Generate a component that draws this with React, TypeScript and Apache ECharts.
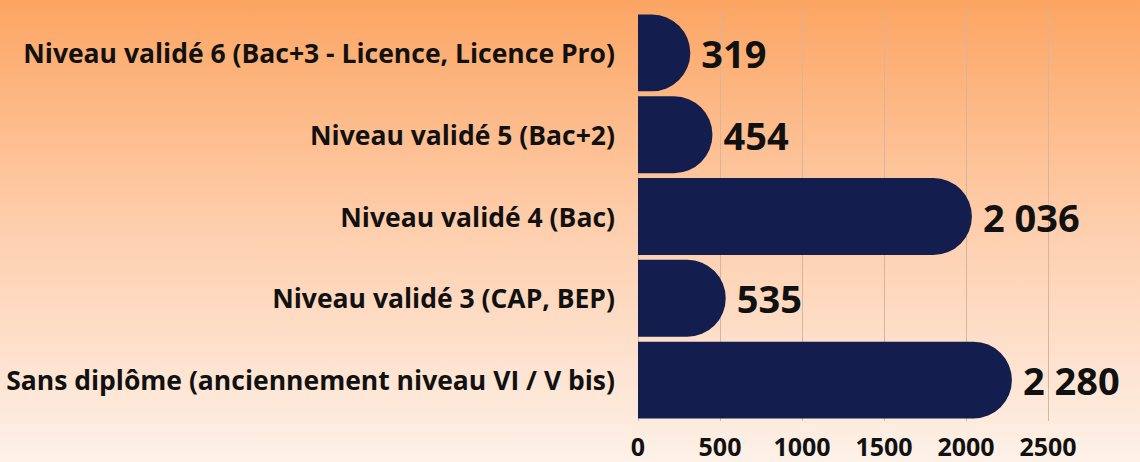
import React, { useEffect, useRef } from "react";
import * as echarts from "echarts";

const categories = [
  "Sans diplôme (anciennement niveau VI / V bis)",
  "Niveau validé 3 (CAP, BEP)",
  "Niveau validé 4 (Bac)",
  "Niveau validé 5 (Bac+2)",
  "Niveau validé 6 (Bac+3 - Licence, Licence Pro)",
];
const values = [2280, 535, 2036, 454, 319];
const xTicks = [0, 500, 1000, 1500, 2000, 2500];

const FONT = "'Open Sans', sans-serif";

function fmt(v: number): string {
  const s = String(v);
  return s.length > 3 ? s.slice(0, s.length - 3) + " " + s.slice(s.length - 3) : s;
}

export default function App() {
  const ref = useRef<HTMLDivElement>(null);
  useEffect(() => {
    if (!ref.current) return;
    const chart = echarts.init(ref.current, null, { renderer: "svg" });
    chart.setOption({
      animation: false,
      backgroundColor: new echarts.graphic.LinearGradient(0, 0, 0, 1, [
        { offset: 0, color: "#fca563" },
        { offset: 0.5, color: "#fecfae" },
        { offset: 1, color: "#fdf1e8" },
      ]),
      grid: { left: 638, right: 92, top: 12, bottom: 41, containLabel: false },
      xAxis: {
        type: "value",
        min: xTicks[0],
        max: xTicks[xTicks.length - 1],
        interval: 500,
        axisLine: { show: false },
        axisTick: { show: false },
        splitLine: { show: true, lineStyle: { color: "#d8b49a", width: 1 } },
        axisLabel: {
          color: "#111111",
          fontFamily: FONT,
          fontWeight: 700,
          fontSize: 25,
          margin: 12,
          formatter: (v: number) => String(v),
        },
      },
      yAxis: {
        type: "category",
        data: categories,
        axisLine: { show: false },
        axisTick: { show: false },
        axisLabel: {
          color: "#111111",
          fontFamily: FONT,
          fontWeight: 700,
          fontSize: 26.5,
          margin: 23,
        },
      },
      series: [
        {
          type: "bar",
          data: values,
          barCategoryGap: "6%",
          itemStyle: { color: "#131e4e", borderRadius: [0, 40, 40, 0] },
          label: {
            show: true,
            position: "right",
            distance: 11,
            color: "#111111",
            fontFamily: FONT,
            fontWeight: 700,
            fontSize: 38,
            formatter: (p: any) => fmt(p.value),
          },
        },
      ],
    });
    return () => chart.dispose();
  }, []);
  return (
    <div
      ref={ref}
      style={{ position: "fixed", left: 0, top: 0, width: 1140, height: 462 }}
    />
  );
}
